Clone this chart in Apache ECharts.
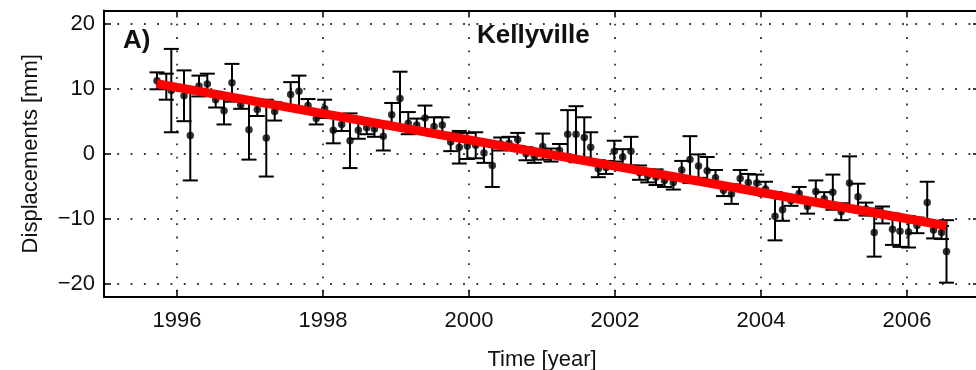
<!DOCTYPE html>
<html>
<head>
<meta charset="utf-8">
<title>Kellyville displacements</title>
<script src="https://cdn.jsdelivr.net/npm/echarts@6/dist/echarts.min.js"></script>
<style>
  html, body { margin: 0; padding: 0; background: #fff; }
  #chart { width: 976px; height: 370px; }
</style>
</head>
<body>
<div id="chart"></div>
<script>
// Observation epochs (decimal year)
const years = [
  1995.726, 1995.853, 1995.922, 1996.096, 1996.182, 1996.301, 1996.415, 1996.530, 1996.644, 1996.753,
  1996.873, 1996.986, 1997.100, 1997.223, 1997.338, 1997.557, 1997.671, 1997.795, 1997.908, 1998.023,
  1998.141, 1998.256, 1998.370, 1998.484, 1998.599, 1998.705, 1998.826, 1998.941, 1999.055, 1999.168,
  1999.284, 1999.397, 1999.521, 1999.634, 1999.749, 1999.867, 1999.977, 2000.092, 2000.205, 2000.319,
  2000.434, 2000.548, 2000.667, 2000.781, 2000.895, 2001.010, 2001.123, 2001.240, 2001.352, 2001.466,
  2001.579, 2001.667, 2001.771, 2001.877, 2001.990, 2002.105, 2002.219, 2002.336, 2002.448, 2002.562,
  2002.678, 2002.799, 2002.914, 2003.027, 2003.144, 2003.263, 2003.377, 2003.486, 2003.596, 2003.715,
  2003.826, 2003.942, 2004.062, 2004.192, 2004.295, 2004.411, 2004.523, 2004.637, 2004.751, 2004.866,
  2004.984, 2005.099, 2005.212, 2005.329, 2005.438, 2005.551, 2005.664, 2005.801, 2005.904, 2006.021,
  2006.137, 2006.277, 2006.363, 2006.473, 2006.541
];
// Displacement at each epoch [mm]
const displacements = [
  11.2, 10.3, 9.7, 8.9, 2.8, 10.4, 10.7, 8.3, 6.6, 10.9,
  7.5, 3.7, 6.8, 2.4, 6.5, 9.1, 9.6, 7.4, 5.4, 6.9,
  3.6, 4.5, 2.0, 3.6, 4.0, 3.8, 2.7, 6.0, 8.5, 4.7,
  4.4, 5.5, 4.2, 4.4, 1.8, 1.0, 1.2, 1.3, 0.1, -1.8,
  1.5, 1.6, 2.2, 0.0, -0.4, 1.1, -0.2, 0.5, 3.0, 3.0,
  2.5, 1.0, -2.3, -2.1, 0.4, -0.5, 0.4, -2.9, -3.4, -3.6,
  -4.1, -4.4, -2.5, -0.9, -1.9, -2.6, -3.7, -5.6, -6.2, -3.8,
  -4.4, -4.5, -5.4, -9.6, -8.6, -7.2, -6.1, -8.1, -5.8, -6.9,
  -5.9, -8.9, -4.5, -6.6, -8.5, -12.1, -9.4, -11.6, -11.9, -12.0,
  -11.0, -7.5, -11.7, -12.1, -15.0
];
// Half-length of each error bar [mm]
const errors = [
  1.3, 2.0, 6.4, 3.9, 6.9, 1.6, 1.6, 1.2, 2.1, 2.9,
  0.6, 4.6, 1.0, 5.9, 1.4, 1.9, 2.4, 1.0, 0.9, 1.4,
  2.0, 1.0, 4.2, 1.3, 1.0, 1.2, 2.2, 1.8, 4.1, 1.7,
  1.0, 1.9, 1.4, 1.2, 1.4, 2.5, 2.0, 2.0, 1.5, 3.3,
  1.0, 1.0, 1.0, 1.0, 1.0, 2.0, 1.0, 1.0, 3.7, 4.3,
  3.1, 2.3, 1.3, 1.0, 1.6, 1.2, 2.2, 1.1, 1.0, 1.2,
  1.0, 1.1, 1.4, 3.6, 1.8, 2.1, 1.2, 0.9, 1.5, 1.3,
  1.3, 1.3, 1.1, 3.7, 1.7, 0.8, 1.0, 1.1, 1.7, 1.0,
  2.7, 1.3, 4.1, 2.0, 1.0, 3.7, 1.3, 2.4, 2.4, 2.4,
  1.2, 3.2, 1.3, 1.0, 4.8
];
// Linear trend end points
const trendYears = [1995.72, 2006.54];
const trendValues = [10.77, -11.05];
// Axis ticks
const yearTicks = [1996, 1998, 2000, 2002, 2004, 2006];
const mmTicks = [-20, -10, 0, 10, 20];

const FONT = '"Liberation Sans", Arial, Helvetica, sans-serif';
const INK = '#111';

const pointData = years.map((y, i) => [y, displacements[i], errors[i]]);
const trendData = trendYears.map((y, i) => [y, trendValues[i]]);

const dotted = { color: '#333', width: 1.8, type: [1.8, 11.5] };

function xAxisBase(pos) {
  return {
    type: 'value', position: pos, min: 1995, max: 2007,
    axisLine: { show: true, onZero: false, lineStyle: { color: '#000', width: 2 } },
    axisTick: { show: true, inside: true, length: 7, customValues: yearTicks, lineStyle: { color: '#000', width: 1.5 } },
    axisLabel: { show: pos === 'bottom', customValues: yearTicks, margin: 13,
      fontFamily: FONT, fontSize: 22, color: INK, formatter: v => String(v) },
    splitLine: { show: pos === 'bottom', lineStyle: dotted }
  };
}
function yAxisBase(pos) {
  return {
    type: 'value', position: pos, min: -22, max: 22,
    axisLine: { show: true, onZero: false, lineStyle: { color: '#000', width: 2 } },
    axisTick: { show: true, inside: true, length: 7, customValues: mmTicks, lineStyle: { color: '#000', width: 1.5 } },
    axisLabel: { show: pos === 'left', customValues: mmTicks, margin: 9,
      fontFamily: FONT, fontSize: 22, color: INK,
      formatter: v => (v < 0 ? '\u2212' + Math.abs(v) : String(v)) },
    splitLine: { show: pos === 'left', lineStyle: dotted }
  };
}

const chart = echarts.init(document.getElementById('chart'), null, { renderer: 'canvas' });

const xBottom = Object.assign(xAxisBase('bottom'), {
  name: 'Time [year]', nameLocation: 'middle', nameGap: 52,
  nameTextStyle: { fontFamily: FONT, fontSize: 22, color: INK }
});
const yLeft = Object.assign(yAxisBase('left'), {
  name: 'Displacements [mm]', nameLocation: 'middle', nameGap: 62, nameRotate: 90,
  nameTextStyle: { fontFamily: FONT, fontSize: 22, color: INK }
});

chart.setOption({
  animation: false,
  backgroundColor: '#fff',
  grid: { left: 104, top: 10.5, width: 876, height: 286.5, containLabel: false, outerBoundsMode: 'none' },
  xAxis: [xBottom, xAxisBase('top')],
  yAxis: [yLeft, yAxisBase('right')],
  graphic: [
    { type: 'text', left: 123, top: 28, style: { text: 'A)', fontFamily: FONT, fontWeight: 'bold', fontSize: 26, fill: INK } },
    { type: 'text', left: 477, top: 23, style: { text: 'Kellyville', fontFamily: FONT, fontWeight: 'bold', fontSize: 26, fill: INK } }
  ],
  series: [
    {
      // error bars with caps
      type: 'custom',
      xAxisIndex: 0, yAxisIndex: 0,
      data: pointData,
      encode: { x: 0, y: 1 },
      z: 3,
      renderItem: function (params, api) {
        const x = api.value(0), y = api.value(1), e = api.value(2);
        const lo = api.coord([x, y - e]);
        const hi = api.coord([x, y + e]);
        const w = 7.5;
        const st = { stroke: '#000', lineWidth: 2 };
        return {
          type: 'group',
          children: [
            { type: 'line', shape: { x1: lo[0], y1: lo[1], x2: hi[0], y2: hi[1] }, style: st },
            { type: 'line', shape: { x1: lo[0] - w, y1: lo[1], x2: lo[0] + w, y2: lo[1] }, style: st },
            { type: 'line', shape: { x1: hi[0] - w, y1: hi[1], x2: hi[0] + w, y2: hi[1] }, style: st }
          ]
        };
      }
    },
    {
      type: 'scatter',
      xAxisIndex: 0, yAxisIndex: 0,
      data: pointData.map(p => [p[0], p[1]]),
      symbol: 'circle', symbolSize: 7.5,
      itemStyle: { color: '#000' },
      z: 4
    },
    {
      type: 'line',
      xAxisIndex: 0, yAxisIndex: 0,
      data: trendData,
      showSymbol: false,
      lineStyle: { color: '#ff0000', width: 9, cap: 'butt' },
      z: 5
    }
  ]
});
</script>
</body>
</html>
